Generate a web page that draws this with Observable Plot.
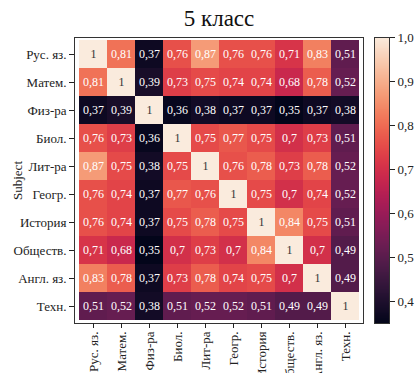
<!DOCTYPE html>
<html>
<head>
<meta charset="utf-8">
<script src="https://cdn.jsdelivr.net/npm/d3@7"></script>
<script src="https://cdn.jsdelivr.net/npm/@observablehq/plot@0.6"></script>
<style>
  html, body { margin: 0; padding: 0; background: #fff; }
  #wrap { position: relative; width: 420px; height: 373px; overflow: hidden; }
  #wrap > * { position: absolute; top: 0; }
  #wrap svg, #wrap svg text { font-family: "Liberation Serif", "Times New Roman", "DejaVu Serif", serif !important; }
</style>
</head>
<body>
<div id="wrap"></div>
<script>
const title = "5 класс";
const axisLabel = "Subject";
const subjects = ["Рус. яз.","Матем.","Физ-ра","Биол.","Лит-ра","Геогр.","История","Обществ.","Англ. яз.","Техн."];
const corr = [
  [1,    0.81, 0.37, 0.76, 0.87, 0.76, 0.76, 0.71, 0.83, 0.51],
  [0.81, 1,    0.39, 0.73, 0.75, 0.74, 0.74, 0.68, 0.78, 0.52],
  [0.37, 0.39, 1,    0.36, 0.38, 0.37, 0.37, 0.35, 0.37, 0.38],
  [0.76, 0.73, 0.36, 1,    0.75, 0.77, 0.75, 0.70, 0.73, 0.51],
  [0.87, 0.75, 0.38, 0.75, 1,    0.76, 0.78, 0.73, 0.78, 0.52],
  [0.76, 0.74, 0.37, 0.77, 0.76, 1,    0.75, 0.70, 0.74, 0.52],
  [0.76, 0.74, 0.37, 0.75, 0.78, 0.75, 1,    0.84, 0.75, 0.51],
  [0.71, 0.68, 0.35, 0.70, 0.73, 0.70, 0.84, 1,    0.70, 0.49],
  [0.83, 0.78, 0.37, 0.73, 0.78, 0.74, 0.75, 0.70, 1,    0.49],
  [0.51, 0.52, 0.38, 0.51, 0.52, 0.52, 0.51, 0.49, 0.49, 1]
];
const colorTicks = [0.4, 0.5, 0.6, 0.7, 0.8, 0.9, 1.0];
const colorDomain = [0.35, 1.0];

// seaborn "rocket" colormap approximation
const rocket = d3.interpolateRgbBasis(["#03051a","#35193e","#701f57","#ad1759","#e13342","#f37651","#f6b48f","#faebdd"]);
const fmt = v => v === 1 ? "1" : String(v).replace(".", ",");

const cells = [];
corr.forEach((row, i) => row.forEach((v, j) => cells.push({row: subjects[i], col: subjects[j], v})));

const font = "'Liberation Serif', 'Times New Roman', serif";
const W = 420, H = 373, mT = 37, mB = 50;

const heat = Plot.plot({
  width: W, height: H,
  marginLeft: 74, marginRight: 57, marginTop: mT, marginBottom: mB,
  style: {fontFamily: font, fontSize: "12px", color: "#222", background: "transparent", overflow: "visible"},
  x: {domain: subjects, padding: 0, label: null},
  y: {domain: subjects, padding: 0, label: null},
  color: {type: "linear", domain: colorDomain, interpolate: () => rocket, clamp: true},
  marks: [
    Plot.cell(cells, {x: "col", y: "row", fill: "v", inset: 0}),
    Plot.text(cells, {x: "col", y: "row", text: d => fmt(d.v), fill: d => d.v >= 0.95 ? "#333" : "#fff", fontSize: 12}),
    Plot.frame({stroke: "#333", strokeWidth: 1}),
    Plot.axisX({tickRotate: -90, tickSize: 5, tickPadding: 3, fontSize: 13, label: null}),
    Plot.axisY({tickSize: 5, tickPadding: 3, fontSize: 13, label: axisLabel, labelAnchor: "center", labelArrow: "none", labelOffset: 62}),
    Plot.text([title], {frameAnchor: "top", dy: -19, lineAnchor: "middle", fontSize: 23, fill: "#111"})
  ]
});

const bar = Plot.plot({
  width: 46, height: H,
  marginLeft: 0, marginRight: 31, marginTop: mT, marginBottom: mB,
  style: {fontFamily: font, fontSize: "12px", color: "#222", background: "transparent", overflow: "visible"},
  x: {domain: [0, 1], axis: null},
  y: {domain: colorDomain, ticks: colorTicks, tickFormat: d => d.toFixed(1).replace(".", ","), label: null},
  color: {type: "linear", domain: colorDomain, interpolate: () => rocket},
  marks: [
    Plot.raster({x1: 0, x2: 1, y1: colorDomain[0], y2: colorDomain[1], width: 1, height: 300, fill: (x, y) => y, imageRendering: "auto"}),
    Plot.frame({stroke: "#333", strokeWidth: 1}),
    Plot.axisY({anchor: "right", ticks: colorTicks, tickFormat: d => d.toFixed(1).replace(".", ","), tickSize: 5, tickPadding: 3, fontSize: 13, label: null})
  ]
});
bar.style.left = "374px";

document.getElementById("wrap").append(heat, bar);
</script>
</body>
</html>
